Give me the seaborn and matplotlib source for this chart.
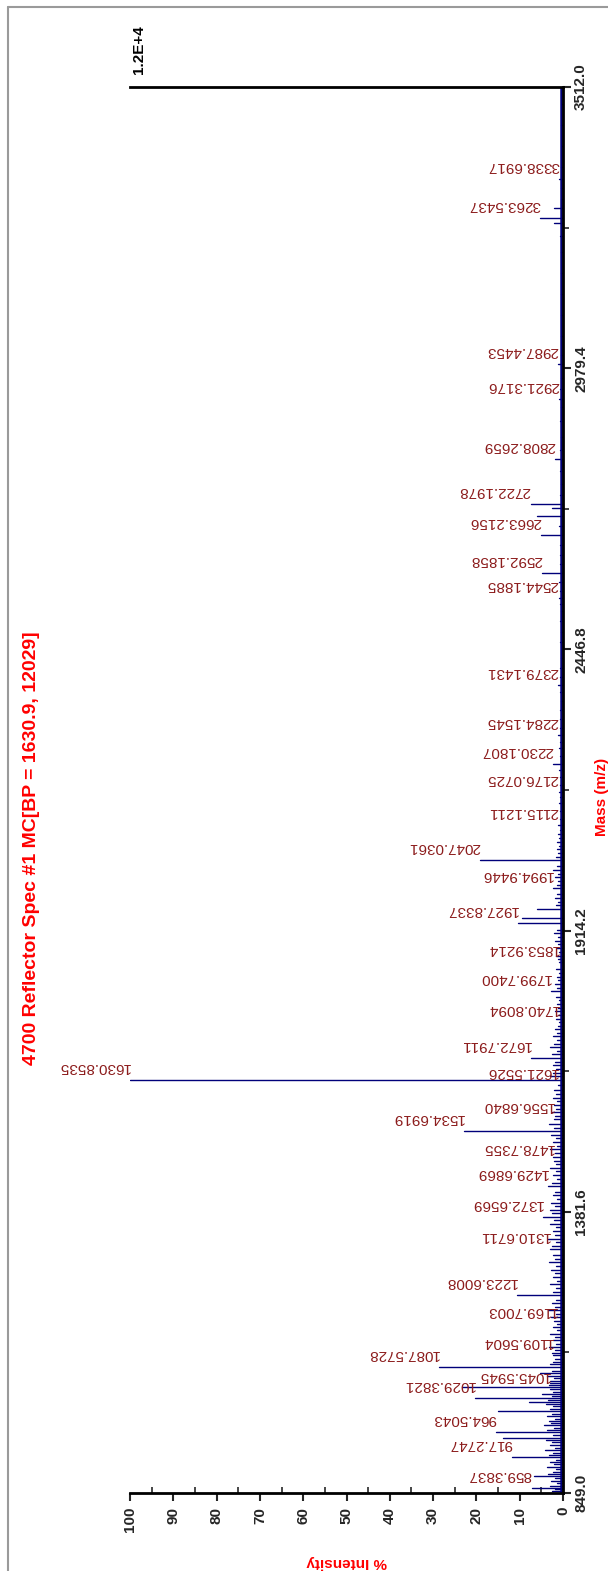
"""
MALDI reflector spectrum, drawn portrait (mass axis vertical, intensity inverted).
"""

import numpy as np
import pandas as pd
import matplotlib
matplotlib.use("Agg")
import matplotlib.pyplot as plt
from matplotlib.lines import Line2D
import seaborn as sns

# labelled peaks: m/z and % intensity
label_mz = [859.3837, 917.2747, 964.5043, 1029.3821, 1045.5945, 1087.5728,
            1109.5604, 1169.7003, 1223.6008, 1310.6711, 1372.6569, 1429.6869,
            1478.7355, 1534.6919, 1556.6840, 1621.5526, 1630.8535, 1672.7911,
            1740.8094, 1799.7400, 1853.9214, 1927.8337, 1994.9446, 2047.0361,
            2115.1211, 2176.0725, 2230.1807, 2284.1545, 2379.1431, 2544.1885,
            2592.1858, 2663.2156, 2722.1978, 2808.2659, 2921.3176, 2987.4453,
            3263.5437, 3338.6917]
label_int = [7.2, 11.8, 15.5, 20.3, 3.0, 28.6,
             2.4, 1.5, 10.7, 3.0, 4.6, 3.5,
             2.0, 22.9, 2.0, 1.2, 100.0, 7.5,
             1.0, 2.8, 1.0, 10.4, 2.3, 19.2,
             1.2, 1.0, 2.3, 1.2, 1.2, 1.0,
             4.9, 5.0, 7.5, 1.8, 0.9, 1.2,
             5.3, 0.9]

# other visible peaks without labels
other_mz = [881.0, 953.8, 1004.9, 1021.9, 1049.2, 1057.9, 1076.0, 1385.0,
            1693.0, 1937.9, 1954.9, 2699.0, 2714.0, 3254.0, 3282.5]
other_int = [6.7, 13.9, 15.0, 7.9, 23.4, 3.0, 5.3, 3.0,
             3.0, 9.5, 6.0, 6.0, 2.5, 2.0, 2.0]

# small noise peaks along the baseline
noise_mz = [852, 856, 863, 868, 872, 877, 885, 889, 894, 899, 903, 908, 912,
            921, 925, 930, 935, 940, 946, 950, 958, 968, 972, 977, 981, 986,
            990, 995, 999, 1009, 1013, 1017, 1026, 1033, 1037, 1041, 1053,
            1061, 1066, 1071, 1081, 1093, 1098, 1103, 1114, 1120, 1126, 1132,
            1138, 1145, 1151, 1157, 1163, 1175, 1182, 1188, 1195, 1201, 1208,
            1214, 1230, 1237, 1244, 1251, 1258, 1265, 1272, 1279, 1286, 1293,
            1300, 1317, 1324, 1331, 1338, 1345, 1352, 1359, 1366, 1379, 1392,
            1399, 1406, 1413, 1420, 1437, 1444, 1451, 1458, 1465, 1472, 1486,
            1493, 1500, 1507, 1514, 1521, 1528, 1541, 1548, 1563, 1570, 1577,
            1584, 1591, 1598, 1605, 1612, 1638, 1645, 1652, 1659, 1666, 1680,
            1687, 1700, 1707, 1714, 1721, 1728, 1734, 1747, 1754, 1761, 1768,
            1775, 1782, 1789, 1806, 1813, 1820, 1827, 1834, 1841, 1860, 1867,
            1874, 1881, 1888, 1895, 1902, 1909, 1916, 1962, 1969, 1976, 1983,
            2001, 2008, 2015, 2022, 2029, 2036, 2054, 2061, 2068, 2075, 2082,
            2090, 2097, 2105, 2125, 2140, 2155, 2168, 2190, 2205, 2218, 2245,
            2260, 2272, 2298, 2315, 2332, 2350, 2366, 2395, 2412, 2430, 2460,
            2480, 2500, 2520, 2532, 2558, 2575, 2608, 2625, 2645, 2680, 2740,
            2760, 2785, 2825, 2850, 2880, 2905, 2940, 2960, 3005, 3040, 3080,
            3120, 3160, 3200, 3230, 3300, 3320, 3360, 3400, 3440, 3480]
noise_int = [2.5, 1.8, 3.1, 1.5, 2.8, 1.9, 3.4, 2.2, 1.6, 3.8, 2.1, 2.9, 1.7,
             3.3, 2.4, 4.2, 1.8, 3.0, 2.6, 3.9, 2.2, 3.6, 2.0, 4.5, 2.7, 3.2,
             1.9, 3.8, 2.5, 3.1, 2.2, 4.0, 3.5, 2.6, 4.8, 2.4, 3.3,
             2.9, 2.1, 3.7, 2.5, 3.0, 2.2, 1.8, 2.6, 1.9, 3.2, 1.6,
             2.4, 1.8, 2.9, 1.5, 2.3, 2.0, 2.7, 1.6, 3.4, 1.8, 2.5,
             1.6, 2.2, 1.7, 3.0, 1.5, 2.4, 1.9, 2.8, 1.6, 3.3, 1.8,
             2.2, 2.6, 1.7, 3.4, 1.9, 2.3, 1.6, 2.9, 2.0, 2.5, 1.8,
             2.8, 1.5, 2.2, 1.8, 2.6, 1.5, 2.3, 1.7, 2.9, 1.6, 2.4,
             1.8, 3.1, 1.5, 2.2, 1.7, 2.7, 2.0, 3.2, 1.8, 2.5, 1.6,
             2.0, 1.4, 2.3, 1.6, 2.1, 3.0, 2.2, 1.6, 2.4, 1.8, 2.5,
             1.5, 2.0, 1.4, 2.2, 1.3, 1.8, 1.2, 1.6, 1.1, 1.9, 1.2,
             1.5, 1.0, 1.7, 1.3, 1.8, 1.1, 1.5, 1.0, 1.6, 1.2, 1.7,
             1.0, 1.5, 1.1, 1.8, 1.2, 2.0, 1.5, 1.6, 1.2, 1.9, 1.3,
             1.5, 1.1, 1.8, 1.2, 2.2, 1.4, 1.6, 1.1, 1.4, 1.0, 1.3,
             0.9, 1.2, 0.8, 0.8, 0.6, 0.9, 0.7, 0.8, 0.6, 1.0, 0.7,
             0.9, 0.6, 0.8, 0.6, 0.7, 0.5, 0.8, 0.6, 0.7, 0.5, 0.6,
             0.5, 0.7, 0.5, 0.8, 0.6, 0.9, 0.7, 0.6, 0.8, 0.9, 0.7,
             0.5, 0.6, 0.7, 0.5, 0.6, 0.5, 0.6, 0.5, 0.5, 0.4, 0.5,
             0.4, 0.5, 0.4, 0.6, 0.5, 0.4, 0.4, 0.3, 0.4, 0.3]

# baseline trace along the mass axis
baseline_mz = [849.0, 3512.0]
baseline_int = [0.4, 0.4]

mass_ticks = [849.0, 1381.6, 1914.2, 2446.8, 2979.4, 3512.0]
int_ticks = list(range(0, 101, 10))
title = "4700 Reflector Spec #1 MC[BP = 1630.9, 12029]"
abs_max = "1.2E+4"

SPEC = "#00007a"
LABEL_RED = "#8c1c1c"

sns.set_style("white")
plt.rcParams["font.family"] = ["Liberation Sans", "DejaVu Sans"]

# one stick per peak: (0 -> intensity) at the peak mass
all_mz = label_mz + other_mz + noise_mz
all_int = label_int + other_int + noise_int
rows = []
for i, (m, v) in enumerate(zip(all_mz, all_int)):
    rows.append({"peak": i, "mz": m, "intensity": 0.0})
    rows.append({"peak": i, "mz": m, "intensity": v})
sticks = pd.DataFrame(rows)
base = pd.DataFrame({"mz": baseline_mz, "intensity": baseline_int})

W, H = 608, 1571
fig = plt.figure(figsize=(W / 100, H / 100), dpi=100)
ax = fig.add_axes([130 / W, (H - 1493) / H, 433 / W, 1406 / H])

sns.lineplot(data=base, x="intensity", y="mz", orient="y", sort=False,
             color=SPEC, lw=1.8, ax=ax, legend=False)
sns.lineplot(data=sticks, x="intensity", y="mz", units="peak", estimator=None,
             sort=False, orient="y", color=SPEC, lw=1.0, ax=ax, legend=False)

ax.set_xlim(100, 0)
ax.set_ylim(mass_ticks[0], mass_ticks[-1])

for m, v in zip(label_mz, label_int):
    ax.annotate(f"{m:.4f}", xy=(v, m), xytext=(0, 13), textcoords="offset pixels",
                rotation=180, rotation_mode="anchor", ha="left", va="center",
                fontsize=11, color=LABEL_RED)

ax.annotate(abs_max, xy=(100, mass_ticks[-1]), xytext=(9, 13),
            textcoords="offset pixels", rotation=90, ha="center", va="bottom",
            fontsize=11, fontweight="bold", color="black")

# axes styling
for side in ["top", "right", "bottom"]:
    ax.spines[side].set_color("black")
    ax.spines[side].set_linewidth(2)
ax.spines["left"].set_visible(False)

ax.set_xticks(int_ticks)
ax.set_xticklabels([str(t) for t in int_ticks])
ax.set_xticks(np.arange(5, 100, 10), minor=True)
ax.yaxis.tick_right()
ax.set_yticks(mass_ticks)
ax.set_yticklabels([f"{t:.1f}" for t in mass_ticks])
ax.set_yticks(np.convolve(mass_ticks, [0.5, 0.5], "valid"), minor=True)

ax.tick_params(axis="x", which="major", direction="out", length=6, width=1.5,
               pad=4, labelsize=11, labelrotation=90, bottom=True, top=False)
ax.tick_params(axis="x", which="minor", direction="in", length=4, width=1.2,
               bottom=True, top=False)
ax.tick_params(axis="y", which="major", direction="out", length=6, width=1.5,
               pad=2, labelsize=11, labelrotation=90, right=True, left=False)
ax.tick_params(axis="y", which="minor", direction="out", length=4, width=1.2,
               right=True, left=False)
for lab in ax.get_xticklabels():
    lab.set_fontweight("bold")
    lab.set_va("top")
    lab.set_ha("center")
for lab in ax.get_yticklabels():
    lab.set_fontweight("bold")
    lab.set_va("center")
    lab.set_ha("left")

ax.set_xlabel("% Intensity", color="red", fontsize=11, fontweight="bold",
              rotation=180)
ax.xaxis.set_label_coords(0.5, -0.044)
ax.yaxis.set_label_position("right")
ax.set_ylabel("Mass (m/z)", color="red", fontsize=11, fontweight="bold",
              rotation=90, va="center")
ax.yaxis.set_label_coords(1.09, 0.495)

fig.text(32 / W, 1 - 848 / H, title, rotation=90, ha="center", va="center",
         color="red", fontsize=14, fontweight="bold")

# grey page frame (top and left edges)
frame = "#9a9a9a"
fig.add_artist(Line2D([8 / W, 1], [1 - 7 / H, 1 - 7 / H], transform=fig.transFigure,
                      color=frame, lw=1.5))
fig.add_artist(Line2D([8 / W, 8 / W], [0, 1 - 7 / H], transform=fig.transFigure,
                      color=frame, lw=1.5))

fig.savefig("out.png", dpi=100)
